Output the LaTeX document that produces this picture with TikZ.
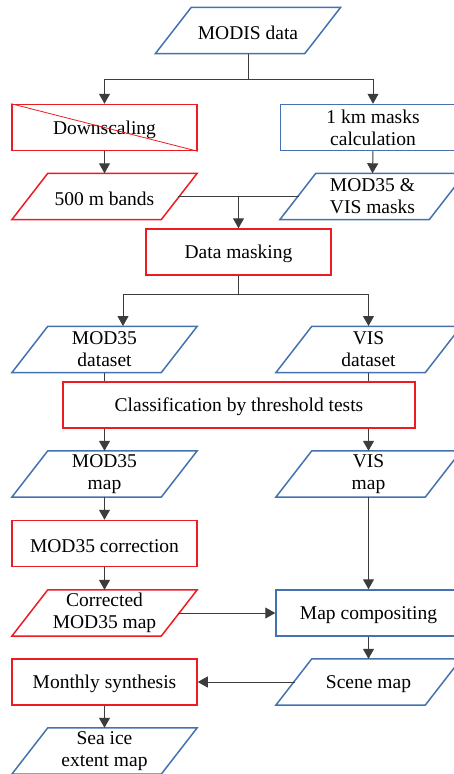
\documentclass[tikz,border=0pt]{standalone}
\usepackage{fontspec}
\setmainfont{Liberation Serif}
\usetikzlibrary{arrows.meta}
\definecolor{boxred}{RGB}{237,28,36}
\definecolor{boxblue}{RGB}{68,114,176}
\definecolor{conn}{RGB}{60,60,60}
\newcommand\paradraw[2]{\draw[#2,line width=1.5pt] ([xshift=18pt]#1.north west) -- ([xshift=18pt]#1.north east) -- ([xshift=-18pt]#1.south east) -- ([xshift=-18pt]#1.south west) -- cycle;}
\begin{document}
\begin{tikzpicture}[x=1pt,y=-1pt,
  every node/.style={font=\fontsize{19.5}{22}\selectfont, align=center, inner sep=0pt, execute at begin node={\rule{0pt}{17.5pt}}},
  procbox/.style={draw, line width=1.5pt, minimum width=185pt, minimum height=46pt},
  redbox/.style={procbox, draw=boxred},
  bluebox/.style={procbox, draw=boxblue},
  paranode/.style={minimum width=149pt, minimum height=46pt},
  conline/.style={draw=conn, line width=1pt},
  arr/.style={conline, -{Triangle[width=11pt,length=10pt]}}
]
\useasboundingbox (0,0) rectangle (453,774);
% nodes
\node[paranode] (modis) at (248,30.5) {MODIS data};
\node[redbox] (down) at (104.5,127.5) {Downscaling};
\node[bluebox] (km) at (373,127.5) {1 km masks\\calculation};
\node[paranode] (bands) at (104.5,196.5) {500 m bands};
\node[paranode] (masks) at (372.5,196.5) {MOD35 \&\\VIS masks};
\node[redbox] (dm) at (238.5,252) {Data masking};
\node[paranode] (modds) at (104.5,349.5) {MOD35\\dataset};
\node[paranode] (visds) at (368.5,349.5) {VIS\\dataset};
\node[redbox, minimum width=352pt] (cls) at (239,405) {Classification by threshold tests};
\node[paranode] (modmap) at (104.5,474) {MOD35\\map};
\node[paranode] (vismap) at (368.5,474) {VIS\\map};
\node[redbox] (corr) at (104.5,543.5) {MOD35 correction};
\node[paranode] (cmap) at (104.5,613) {Corrected\\MOD35 map};
\node[bluebox] (comp) at (368.5,613) {Map compositing};
\node[paranode] (scene) at (368.5,682) {Scene map};
\node[redbox] (month) at (104.5,682) {Monthly synthesis};
\node[paranode] (sea) at (104.5,751) {Sea ice\\extent map};
% parallelogram outlines
\paradraw{modis}{boxblue}
\paradraw{bands}{boxred}
\paradraw{masks}{boxblue}
\paradraw{modds}{boxblue}
\paradraw{visds}{boxblue}
\paradraw{modmap}{boxblue}
\paradraw{vismap}{boxblue}
\paradraw{cmap}{boxred}
\paradraw{scene}{boxblue}
\paradraw{sea}{boxblue}
% strike line in Downscaling
\draw[boxred, line width=0.8pt] (down.north west) -- (down.south east);
% connectors
\coordinate (j1) at (248,79);
\draw[conline] (modis.south) -- (j1);
\draw[arr] (j1) -| (down.north);
\draw[arr] (j1) -| (km.north);
\draw[arr] (down.south) -- (bands.north);
\draw[arr] (km.south) -- (masks.north);
\coordinate (j2) at (238.5,196.5);
\draw[conline] ([xshift=-1pt]bands.east) -- ([xshift=1pt]masks.west);
\draw[arr] (j2) -- (dm.north);
\coordinate (j3) at (238.5,294);
\coordinate (a1) at (123,326);
\coordinate (a2) at (368.5,326);
\draw[conline] (dm.south) -- (j3);
\draw[arr] (j3) -| (a1);
\draw[arr] (j3) -| (a2);
\draw[conline] (modds.south) -- (modds.south |- cls.north);
\draw[conline] (visds.south) -- (visds.south |- cls.north);
\draw[arr] (cls.south -| modmap.north) -- (modmap.north);
\draw[arr] (cls.south -| vismap.north) -- (vismap.north);
\draw[arr] (modmap.south) -- (corr.north);
\draw[arr] (corr.south) -- (cmap.north);
\draw[arr] ([xshift=-1pt]cmap.east) -- (comp.west);
\draw[arr] (vismap.south) -- (comp.north);
\draw[arr] (comp.south) -- (scene.north);
\draw[arr] ([xshift=1pt]scene.west) -- (month.east);
\draw[arr] (month.south) -- (sea.north);
\end{tikzpicture}
\end{document}
